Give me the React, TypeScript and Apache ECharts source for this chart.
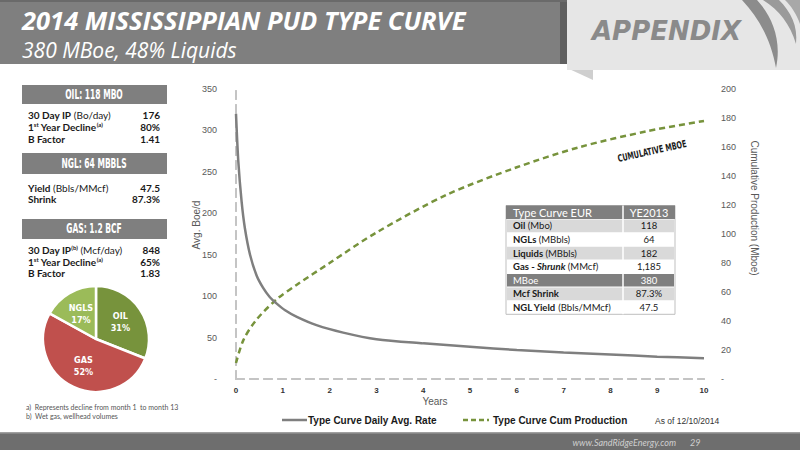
import React, { useEffect, useRef } from "react";
import * as echarts from "echarts";

const rateYears = [0, 0.05, 0.12, 0.19, 0.3, 0.44, 0.58, 0.72, 0.87, 1.05, 1.3, 1.72, 2.29, 3, 4, 5, 6, 7, 8, 9, 10];
const rateValues = [320, 262, 214, 182, 150, 125, 110, 99, 91, 83, 75, 65, 56, 48, 43, 39, 35, 32, 29.5, 27, 25];
const cumYears = [0, 0.16, 0.44, 0.87, 1.3, 2, 3, 4.5, 6, 7.35, 8.8, 10];
const cumValues = [11, 27, 41, 55, 65, 80, 101, 127, 146, 160, 171, 178];

const pieNames = ["OIL", "GAS", "NGLS"];
const pieValues = [31, 52, 17];
const pieColors = ["#77933c", "#c0504d", "#9bbb59"];

const tableHeader = ["Type Curve EUR", "YE2013"];
const tableLabels = [
  "{b|Oil} (Mbo)",
  "{b|NGLs} (MBbls)",
  "{b|Liquids} (MBbls)",
  "{b|Gas - }{bi|Shrunk} (MMcf)",
  "MBoe",
  "{b|Mcf Shrink}",
  "{b|NGL Yield} (Bbls/MMcf)",
];
const tableValues = ["118", "64", "182", "1,185", "380", "87.3%", "47.5"];

const oilRows = [
  ["{b|30 Day IP} (Bo/day)", "176"],
  ["{b|1}{sup|st}{b| Year Decline}{sup|(a)}", "80%"],
  ["{b|B Factor}", "1.41"],
];
const nglRows = [
  ["{b|Yield} (Bbls/MMcf)", "47.5"],
  ["{b|Shrink}", "87.3%"],
];
const gasRows = [
  ["{b|30 Day IP}{sup|(b)} (Mcf/day)", "848"],
  ["{b|1}{sup|st}{b| Year Decline}{sup|(a)}", "65%"],
  ["{b|B Factor}", "1.83"],
];

const FONT = "Lato, 'Open Sans', sans-serif";
const NARROW = "'DejaVu Sans Condensed', 'Liberation Sans Narrow', sans-serif";

const richPanel = {
  b: { fontFamily: FONT, fontSize: 10, fontWeight: "bold", color: "#1a1a1a" },
  sup: { fontFamily: FONT, fontSize: 6, fontWeight: "bold", color: "#1a1a1a", verticalAlign: "top", padding: [0, 0, 5, 0] },
};

function panelElements(header: string, headerY: number, headerH: number, rows: string[][], rowYs: number[]) {
  const els: any[] = [];
  els.push({ type: "rect", shape: { x: 22, y: headerY, width: 145, height: headerH }, style: { fill: "#7f7f7f" } });
  els.push({
    type: "text", x: 94, y: headerY + headerH / 2, scaleX: 0.62,
    style: { text: header, fill: "#ffffff", font: `bold 13.5px ${NARROW}`, align: "center", verticalAlign: "middle" },
  });
  rows.forEach((r, i) => {
    els.push({
      type: "text", x: 28, y: rowYs[i],
      style: { text: r[0], fill: "#1a1a1a", fontFamily: FONT, fontSize: 10, align: "left", verticalAlign: "middle", rich: richPanel },
    });
    els.push({
      type: "text", x: 160, y: rowYs[i],
      style: { text: r[1], fill: "#1a1a1a", font: `bold 10px ${FONT}`, align: "right", verticalAlign: "middle" },
    });
  });
  return els;
}

export default function App() {
  const ref = useRef<HTMLDivElement>(null);
  useEffect(() => {
    if (!ref.current) return;
    echarts.graphic.registerShape(
      "swoosh1",
      echarts.graphic.extendPath("M742,0 L757,0 C772,16 782,40 776,68 C771,40 759,18 742,0 Z", {})
    );
    echarts.graphic.registerShape(
      "swoosh2",
      echarts.graphic.extendPath("M763,0 L779,0 C791,12 798,26 796,44 C790,24 779,10 763,0 Z", {})
    );
    echarts.graphic.registerShape(
      "swoosh3",
      echarts.graphic.extendPath("M785,0 L800,0 L800,24 C796,13 791,6 785,0 Z", {})
    );
    const chart = echarts.init(ref.current, null, { renderer: "svg" });

    const graphics: any[] = [];
    // title bar
    graphics.push({ type: "rect", shape: { x: 0, y: 0, width: 567, height: 64 }, style: { fill: "#7f7f7f" } });
    graphics.push({ type: "rect", shape: { x: 560, y: 0, width: 7, height: 64 }, style: { fill: "#5f5f5f" } });
    graphics.push({ type: "rect", shape: { x: 0, y: 0, width: 800, height: 2 }, style: { fill: "#6a6a6a" } });
    graphics.push({
      type: "text", x: 22, y: 20,
      style: { text: "2014 MISSISSIPPIAN PUD TYPE CURVE", fill: "#ffffff", font: `italic bold 25.5px 'Open Sans', sans-serif`, verticalAlign: "middle" },
    });
    graphics.push({
      type: "text", x: 22, y: 50,
      style: { text: "380 MBoe, 48% Liquids", fill: "#ffffff", font: `italic 21px 'Open Sans', sans-serif`, verticalAlign: "middle" },
    });
    // appendix box
    graphics.push({ type: "polygon", shape: { points: [[567, 68], [593, 68], [593, 80]] }, style: { fill: "#cfcfcf" } });
    graphics.push({ type: "rect", shape: { x: 567, y: 0, width: 233, height: 70 }, style: { fill: "#e6e6e6" } });
    graphics.push({
      type: "text", x: 592, y: 31,
      style: { text: "APPENDIX", fill: "#8a8a8a", font: `italic bold 26px 'DejaVu Sans', sans-serif`, verticalAlign: "middle" },
    });
    graphics.push({ type: "swoosh1", x: 0, y: 0, style: { fill: "#8c8c8c" } });
    graphics.push({ type: "swoosh2", x: 0, y: 0, style: { fill: "#9a9a9a" } });
    graphics.push({ type: "swoosh3", x: 0, y: 0, style: { fill: "#a8a8a8" } });

    // left panels
    graphics.push(...panelElements("OIL: 118 MBO", 85, 19, oilRows, [115, 127, 139]));
    graphics.push(...panelElements("NGL: 64 MBBLS", 153, 21, nglRows, [188, 199]));
    graphics.push(...panelElements("GAS: 1.2 BCF", 219, 20, gasRows, [250, 262, 273]));

    // footnotes
    graphics.push({
      type: "text", x: 26, y: 407,
      style: { text: "a)  Represents decline from month 1  to month 13", fill: "#555555", font: `7px ${FONT}`, verticalAlign: "middle" },
    });
    graphics.push({
      type: "text", x: 26, y: 416,
      style: { text: "b)  Wet gas, wellhead volumes", fill: "#555555", font: `7px ${FONT}`, verticalAlign: "middle" },
    });

    // table
    const tx = 506, tw = 169, tdiv = 623, ty = 205.5, rh = 13.6;
    graphics.push({ type: "rect", shape: { x: tx, y: ty, width: tw, height: rh * 8 }, style: { fill: "#ffffff", stroke: "#bfbfbf", lineWidth: 1 } });
    graphics.push({ type: "rect", shape: { x: tx, y: ty, width: tw, height: rh }, style: { fill: "#7f7f7f" } });
    graphics.push({ type: "text", x: tx + 7, y: ty + rh / 2, style: { text: tableHeader[0], fill: "#ffffff", font: `11px ${FONT}`, verticalAlign: "middle" } });
    graphics.push({ type: "text", x: (tdiv + tx + tw) / 2, y: ty + rh / 2, style: { text: tableHeader[1], fill: "#ffffff", font: `11px ${FONT}`, align: "center", verticalAlign: "middle" } });
    tableLabels.forEach((lab, i) => {
      const y = ty + rh * (i + 1);
      const isDark = i === 4;
      const isGray = i === 0 || i === 2 || i === 5;
      if (isDark || isGray) {
        graphics.push({ type: "rect", shape: { x: tx + 1, y: y + 0.5, width: tw - 2, height: rh - 1 }, style: { fill: isDark ? "#7f7f7f" : "#d9d9d9" } });
      }
      const col = isDark ? "#ffffff" : "#1a1a1a";
      graphics.push({
        type: "text", x: tx + 7, y: y + rh / 2,
        style: {
          text: lab, fill: col, fontFamily: FONT, fontSize: 9.5, verticalAlign: "middle",
          rich: {
            b: { fontFamily: FONT, fontSize: 9.5, fontWeight: "bold", color: col },
            bi: { fontFamily: FONT, fontSize: 9.5, fontWeight: "bold", fontStyle: "italic", color: col },
          },
        },
      });
      graphics.push({
        type: "text", x: (tdiv + tx + tw) / 2, y: y + rh / 2,
        style: { text: tableValues[i], fill: col, font: `9.5px ${FONT}`, align: "center", verticalAlign: "middle" },
      });
    });
    graphics.push({ type: "line", shape: { x1: tdiv, y1: ty, x2: tdiv, y2: ty + rh * 8 }, style: { stroke: "#ffffff", lineWidth: 1.5 } });

    // cumulative label
    graphics.push({
      type: "text", x: 652, y: 151, rotation: (12.5 * Math.PI) / 180, scaleX: 0.72,
      style: { text: "CUMULATIVE MBOE", fill: "#1a1a1a", font: `bold 10px ${NARROW}`, align: "center", verticalAlign: "middle" },
    });

    // axis titles
    graphics.push({ type: "text", x: 435, y: 401, style: { text: "Years", fill: "#595959", font: `10px 'Liberation Sans', Arial, sans-serif`, align: "center", verticalAlign: "middle" } });
    graphics.push({ type: "text", x: 196, y: 225, rotation: Math.PI / 2, style: { text: "Avg. Boe/d", fill: "#595959", font: `10px 'Liberation Sans', Arial, sans-serif`, align: "center", verticalAlign: "middle" } });
    graphics.push({ type: "text", x: 754, y: 208, rotation: -Math.PI / 2, style: { text: "Cumulative Production (Mboe)", fill: "#595959", font: `10px 'Liberation Sans', Arial, sans-serif`, align: "center", verticalAlign: "middle" } });

    // legend
    graphics.push({ type: "line", shape: { x1: 282, y1: 420, x2: 307, y2: 420 }, style: { stroke: "#7f7f7f", lineWidth: 2.5 } });
    graphics.push({ type: "text", x: 308, y: 420, style: { text: "Type Curve Daily Avg. Rate", fill: "#1a1a1a", font: `bold 10px 'Liberation Sans', Arial, sans-serif`, verticalAlign: "middle" } });
    graphics.push({ type: "line", shape: { x1: 463, y1: 420, x2: 489, y2: 420 }, style: { stroke: "#77933c", lineWidth: 2.5, lineDash: [5, 3] } });
    graphics.push({ type: "text", x: 493, y: 420, style: { text: "Type Curve Cum Production", fill: "#1a1a1a", font: `bold 10px 'Liberation Sans', Arial, sans-serif`, verticalAlign: "middle" } });
    graphics.push({ type: "text", x: 655, y: 421, style: { text: "As of 12/10/2014", fill: "#333333", font: `8.5px 'Liberation Sans', Arial, sans-serif`, verticalAlign: "middle" } });

    // footer
    graphics.push({ type: "rect", shape: { x: 0, y: 432, width: 800, height: 18 }, style: { fill: "#6e6e6e" } });
    graphics.push({ type: "rect", shape: { x: 0, y: 432, width: 800, height: 1.5 }, style: { fill: "#a0a0a0" } });
    graphics.push({ type: "text", x: 676, y: 442, style: { text: "www.SandRidgeEnergy.com", fill: "#cfcfcf", font: `italic 9px ${FONT}`, align: "right", verticalAlign: "middle" } });
    graphics.push({ type: "text", x: 690, y: 442, style: { text: "29", fill: "#cfcfcf", font: `italic 9px ${FONT}`, verticalAlign: "middle" } });

    const dashLine = { show: true, lineStyle: { color: "#c4c4c4", width: 2, type: [8, 6] as any } };
    const tickFont = { color: "#595959", fontSize: 9, fontFamily: "'Liberation Sans', Arial, sans-serif" };

    chart.setOption({
      animation: false,
      backgroundColor: "#ffffff",
      grid: { left: 236, right: 96, top: 89, bottom: 71, containLabel: false },
      xAxis: [
        {
          type: "value", min: 0, max: 10, interval: 1, position: "bottom",
          axisLine: dashLine, axisTick: { show: false }, splitLine: { show: false },
          axisLabel: { ...tickFont, fontSize: 8, fontWeight: "bold", color: "#333333", margin: 7 },
        },
        {
          type: "value", min: 0, max: 10, interval: 1, position: "top",
          axisLine: dashLine, axisTick: { show: false }, splitLine: { show: false }, axisLabel: { show: false },
        },
      ],
      yAxis: [
        {
          type: "value", min: 0, max: 350, interval: 50, position: "left",
          axisLine: dashLine, axisTick: { show: false }, splitLine: { show: false },
          axisLabel: { ...tickFont, margin: 19, formatter: (v: number) => (v === 0 ? "-" : String(v)) },
        },
        {
          type: "value", min: 0, max: 200, interval: 20, position: "right",
          axisLine: dashLine, axisTick: { show: false }, splitLine: { show: false },
          axisLabel: { ...tickFont, margin: 17, formatter: (v: number) => (v === 0 ? "-" : String(v)) },
        },
      ],
      series: [
        {
          name: "Type Curve Daily Avg. Rate", type: "line", xAxisIndex: 0, yAxisIndex: 0,
          data: rateYears.map((x, i) => [x, rateValues[i]]), smooth: 0.3, symbol: "none",
          lineStyle: { color: "#7f7f7f", width: 2.5 }, z: 3,
        },
        {
          name: "Type Curve Cum Production", type: "line", xAxisIndex: 0, yAxisIndex: 1,
          data: cumYears.map((x, i) => [x, cumValues[i]]), smooth: 0.3, symbol: "none",
          lineStyle: { color: "#77933c", width: 2.5, type: [6, 4] }, z: 2,
        },
        {
          type: "pie", center: [96, 339], radius: [0, 53], startAngle: 90, clockwise: true,
          data: pieNames.map((n, i) => ({ name: n, value: pieValues[i], itemStyle: { color: pieColors[i] } })),
          itemStyle: { borderColor: "#ffffff", borderWidth: 2.5 },
          label: {
            show: true, position: "inside", color: "#ffffff",
            fontFamily: NARROW, fontWeight: "bold", fontSize: 9, lineHeight: 12,
            formatter: (p: any) => `${p.name}\n${p.value}%`,
          },
          labelLine: { show: false },
        },
      ],
      graphic: graphics,
    });
    return () => chart.dispose();
  }, []);
  return <div ref={ref} style={{ position: "fixed", left: 0, top: 0, width: 800, height: 450 }} />;
}
